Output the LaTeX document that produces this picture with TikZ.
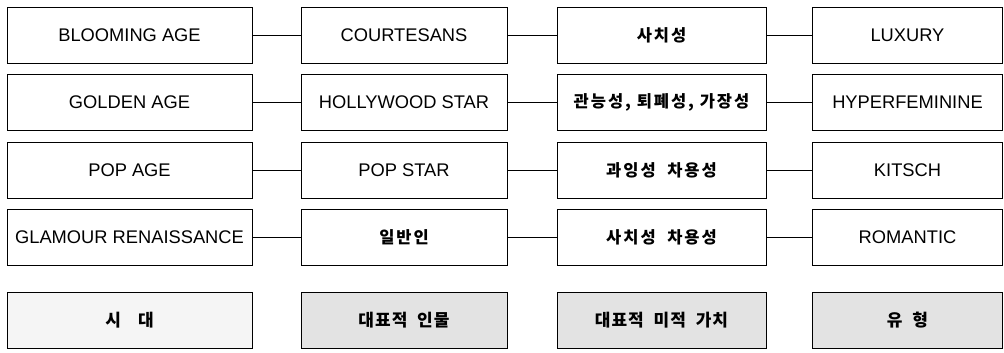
\documentclass[tikz,border=0pt]{standalone}
\usepackage{fontspec}
\setmainfont{Liberation Sans}
\newfontfamily\kr[LetterSpace=12]{Noto Sans CJK KR}
\newfontfamily\krhead[LetterSpace=6]{Noto Sans CJK KR}
\usetikzlibrary{positioning}

\tikzset{
  cell/.style={draw,line width=0.9pt,minimum height=56pt,inner sep=0pt,
    font=\fontsize{18.3}{21}\selectfont},
  krcell/.style={cell,font=\fontsize{16.5}{20}\selectfont\kr\bfseries},
  head/.style={cell,font=\fontsize{17}{20}\selectfont\krhead\bfseries,fill=black!11},
  link/.style={line width=0.8pt}
}

\begin{document}
\begin{tikzpicture}[x=1pt,y=-1pt]

  \useasboundingbox (0,0) rectangle (1004,353);

  %% row 1
  \node[cell,minimum width=245pt] (age1) at (129.5,35) {BLOOMING AGE};
  \node[cell,minimum width=206pt] (who1) at (404,35) {COURTESANS};
  \node[krcell,minimum width=209pt] (val1) at (661.5,35) {사치성};
  \node[cell,minimum width=190pt] (typ1) at (907.5,35) {LUXURY};

  %% row 2
  \node[cell,minimum width=245pt] (age2) at (129.5,102) {GOLDEN AGE};
  \node[cell,minimum width=206pt] (who2) at (404,102) {HOLLYWOOD STAR};
  \node[krcell,minimum width=209pt] (val2) at (661.5,102) {관능성, 퇴폐성, 가장성};
  \node[cell,minimum width=190pt] (typ2) at (907.5,102) {HYPERFEMININE};

  %% row 3
  \node[cell,minimum width=245pt] (age3) at (129.5,170) {POP AGE};
  \node[cell,minimum width=206pt] (who3) at (404,170) {POP STAR};
  \node[krcell,minimum width=209pt] (val3) at (661.5,170) {과잉성\ \ 차용성};
  \node[cell,minimum width=190pt] (typ3) at (907.5,170) {KITSCH};

  %% row 4
  \node[cell,minimum width=245pt] (age4) at (129.5,237) {GLAMOUR RENAISSANCE};
  \node[krcell,minimum width=206pt] (who4) at (404,237) {일반인};
  \node[krcell,minimum width=209pt] (val4) at (661.5,237) {사치성\ \ 차용성};
  \node[cell,minimum width=190pt] (typ4) at (907.5,237) {ROMANTIC};

  %% links
  \foreach \r in {1,2,3,4}{
    \draw[link] (age\r) -- (who\r);
    \draw[link] (who\r) -- (val\r);
    \draw[link] (val\r) -- (typ\r);
  }

  %% headings
  \node[head,minimum width=245pt,fill=black!4] (hage) at (129.5,320.5) {시\quad 대};
  \node[head,minimum width=206pt] (hwho) at (404,320.5) {대표적\ \ 인물};
  \node[head,minimum width=209pt] (hval) at (661.5,320.5) {대표적\ \ 미적\ \ 가치};
  \node[head,minimum width=190pt] (htyp) at (907.5,320.5) {유\ \ 형};

\end{tikzpicture}
\end{document}
